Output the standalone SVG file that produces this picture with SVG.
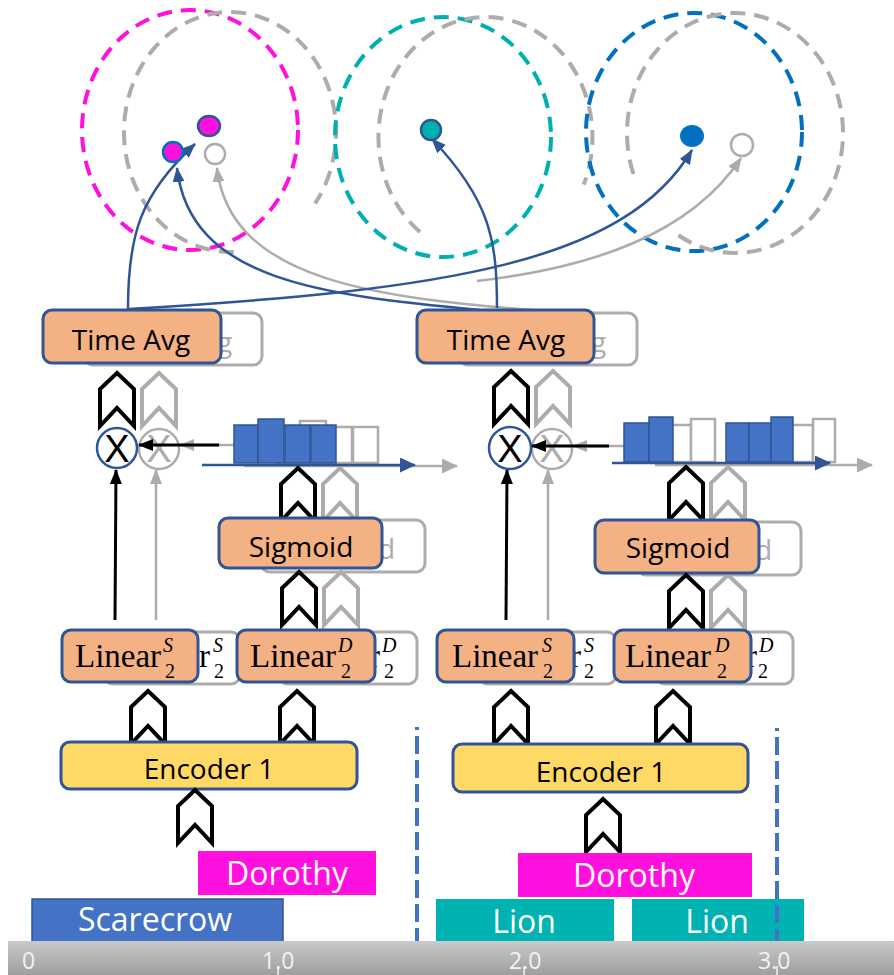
<svg xmlns="http://www.w3.org/2000/svg" width="894" height="975" viewBox="0 0 894 975">
<defs>
  <style>
    .bx{stroke:#2F5597;stroke-width:3}
    .or{fill:#F4B183}
    .ye{fill:#FFD966}
    .gb{fill:#fff;stroke:#AFABAB;stroke-width:3}
    .t{font-family:"Open Sans","Noto Sans",sans-serif;font-size:28px;text-anchor:middle;fill:#000}
    .tgs{font-family:"Open Sans","Noto Sans",sans-serif;font-size:28px;fill:#AFABAB}
    .seg{font-family:"Open Sans","Noto Sans",sans-serif;font-size:32px;text-anchor:middle;fill:#fff}
    .tg{fill:#AFABAB}
    .lin{font-family:"Liberation Serif","DejaVu Serif",serif;font-size:33px;fill:#000}
    .sc{font-family:"Liberation Serif","DejaVu Serif",serif;font-size:20px;fill:#000}
    .it{font-style:italic}
    .chev{fill:#fff;stroke:#000;stroke-width:4}
    .chg{stroke:#AFABAB}
    .xc{fill:#fff;stroke:#2F5597;stroke-width:2.5}
    .xg{fill:#fff;stroke:#AFABAB;stroke-width:2.5}
    .xt{font-family:"Liberation Sans","Open Sans",sans-serif;font-size:38px;text-anchor:middle}
    .bar{fill:#4472C4;stroke:#2F5597;stroke-width:1.5}
    .gbar{fill:#fff;stroke:#AFABAB;stroke-width:2.5}
    .cb{fill:none;stroke:#2F5597;stroke-width:2.5}
    .cg{fill:none;stroke:#AFABAB;stroke-width:2.5}
    .ck{fill:none;stroke:#000;stroke-width:3}
    .ring{fill:none;stroke-width:4;stroke-dasharray:15 9}
    .vd{fill:none;stroke:#4472C4;stroke-width:4;stroke-dasharray:18 6}
    .ax{font-family:"Open Sans","Noto Sans",sans-serif;font-size:23px;fill:#F2F2F2}
  </style>
  <path id="chev" d="M0,0 L17,16 L17,53 L0,35 L-17,53 L-17,16 Z"/>
  <marker id="mb" viewBox="0 0 15 12" refX="14" refY="6" markerWidth="15" markerHeight="12" orient="auto" markerUnits="userSpaceOnUse"><path d="M0,0 L15,6 L0,12 Z" fill="#2F5597"/></marker>
  <marker id="mg" viewBox="0 0 15 12" refX="14" refY="6" markerWidth="15" markerHeight="12" orient="auto" markerUnits="userSpaceOnUse"><path d="M0,0 L15,6 L0,12 Z" fill="#AFABAB"/></marker>
  <marker id="mk" viewBox="0 0 15 12" refX="14" refY="6" markerWidth="15" markerHeight="12" orient="auto" markerUnits="userSpaceOnUse"><path d="M0,0 L15,6 L0,12 Z" fill="#000"/></marker>
  <marker id="mab" viewBox="0 0 16 15" refX="15" refY="7.5" markerWidth="16" markerHeight="15" orient="auto" markerUnits="userSpaceOnUse"><path d="M0,0 L16,7.5 L0,15 Z" fill="#2F5597"/></marker>
  <marker id="mag" viewBox="0 0 16 15" refX="15" refY="7.5" markerWidth="16" markerHeight="15" orient="auto" markerUnits="userSpaceOnUse"><path d="M0,0 L16,7.5 L0,15 Z" fill="#AFABAB"/></marker>
  <linearGradient id="axg" x1="0" y1="0" x2="0" y2="1">
    <stop offset="0" stop-color="#CACACA"/>
    <stop offset="1" stop-color="#9E9E9E"/>
  </linearGradient>
</defs>
<rect width="894" height="975" fill="#fff"/>

<!-- embedding space: speaker clusters -->
<g id="clusters">
  <ellipse cx="190" cy="130" rx="108" ry="120" class="ring" stroke="#FF10DF"/>
  <path d="M233.7,251.9 A106 120 0 1 1 315.1,203.5" class="ring" stroke="#AFABAB"/>
  <ellipse cx="443" cy="137" rx="108" ry="120" class="ring" stroke="#00B0B0"/>
  <path d="M420,232 A107 120 0 1 1 583.7,184.6" class="ring" stroke="#AFABAB"/>
  <ellipse cx="694" cy="132" rx="108" ry="119" class="ring" stroke="#0070C0"/>
  <path d="M633.5,174 A108 120 0 1 1 673,231.3" class="ring" stroke="#AFABAB"/>
</g>

<!-- connectors -->
<g id="connectors">
  <path d="M543,311 C380,298 230,282 217,168" class="cg" marker-end="url(#mg)"/>
  <path d="M477,281 C590,268 690,235 741,158" class="cg" marker-end="url(#mg)"/>
  <path d="M128,309 C128,235 140,195 195,144" class="cb" marker-end="url(#mb)"/>
  <path d="M480,310 C320,295 190,280 177,168" class="cb" marker-end="url(#mb)"/>
  <path d="M128,309 C450,290 625,262 692,150" class="cb" marker-end="url(#mb)"/>
  <path d="M497,308 C497,240 490,200 432,139" class="cb" marker-end="url(#mb)"/>

  <!-- left column -->
  <line x1="156" y1="620" x2="156" y2="470" class="cg" stroke-width="3" marker-end="url(#mg)"/>
  <line x1="262" y1="445" x2="180" y2="445" class="cg" stroke-width="3" marker-end="url(#mg)"/>
  <line x1="244" y1="466" x2="457" y2="466" class="cg" stroke-width="3" marker-end="url(#mag)"/>
  <!-- right column -->
  <line x1="548" y1="620" x2="548" y2="470" class="cg" stroke-width="3" marker-end="url(#mg)"/>
  <line x1="655" y1="446" x2="573" y2="446" class="cg" stroke-width="3" marker-end="url(#mg)"/>
  <line x1="655" y1="465" x2="872" y2="465" class="cg" stroke-width="3" marker-end="url(#mag)"/>
</g>

<!-- grey shadow copy, left (only the uncovered glyphs are written) -->
<g id="shadow-left">
  <rect x="84" y="313" width="178" height="52" rx="9" class="gb"/>
  <text x="217" y="352" class="tgs">g</text>
  <use href="#chev" x="159" y="373" class="chev chg"/>
  <circle cx="159" cy="449" r="20" class="xg"/>
  <text x="159" y="462" class="xt tg">X</text>
  <rect x="276" y="427" width="24" height="36" class="gbar"/>
  <rect x="300" y="421" width="26" height="42" class="gbar"/>
  <rect x="327" y="427" width="25" height="36" class="gbar"/>
  <rect x="353" y="427" width="25" height="36" class="gbar"/>
  <use href="#chev" x="340" y="468" class="chev chg"/>
  <rect x="261" y="520" width="164" height="52" rx="9" class="gb"/>
  <text x="378" y="559" class="tgs">d</text>
  <use href="#chev" x="341" y="572" class="chev chg"/>
  <rect x="104" y="632" width="136" height="52" rx="9" class="gb"/>
  <text x="199" y="667" class="lin tg">r</text>
  <text x="213" y="652" class="sc it tg">S</text>
  <text x="214" y="678" class="sc tg">2</text>
  <rect x="279" y="632" width="138" height="52" rx="9" class="gb"/>
  <text x="369" y="667" class="lin tg">r</text>
  <text x="382" y="652" class="sc it tg">D</text>
  <text x="384" y="678" class="sc tg">2</text>
</g>

<!-- grey shadow copy, right (only the uncovered glyphs are written) -->
<g id="shadow-right">
  <rect x="459" y="313" width="178" height="52" rx="9" class="gb"/>
  <text x="591" y="352" class="tgs">g</text>
  <use href="#chev" x="553" y="371" class="chev chg"/>
  <circle cx="552" cy="449" r="20" class="xg"/>
  <text x="552" y="462" class="xt tg">X</text>
  <rect x="666" y="425" width="25" height="37" class="gbar"/>
  <rect x="691" y="419" width="24" height="43" class="gbar"/>
  <rect x="768" y="425" width="23" height="37" class="gbar"/>
  <rect x="791" y="425" width="22" height="37" class="gbar"/>
  <rect x="813" y="419" width="22" height="43" class="gbar"/>
  <use href="#chev" x="728" y="467" class="chev chg"/>
  <rect x="637" y="522" width="164" height="53" rx="9" class="gb"/>
  <text x="755" y="560" class="tgs">d</text>
  <use href="#chev" x="728" y="575" class="chev chg"/>
  <rect x="479" y="632" width="137" height="52" rx="9" class="gb"/>
  <text x="570" y="667" class="lin tg">r</text>
  <text x="584" y="652" class="sc it tg">S</text>
  <text x="584" y="678" class="sc tg">2</text>
  <rect x="656" y="632" width="137" height="52" rx="9" class="gb"/>
  <text x="746" y="667" class="lin tg">r</text>
  <text x="759" y="652" class="sc it tg">D</text>
  <text x="758" y="678" class="sc tg">2</text>
</g>

<!-- left column -->
<g id="timeavg-left">
  <rect x="43" y="310" width="178" height="53" rx="9" class="bx or"/>
  <text x="131" y="350" class="t">Time Avg</text>
</g>
<use href="#chev" x="117" y="373" class="chev"/>
<g id="mult-left">
  <circle cx="117" cy="448" r="20" class="xc"/>
  <text x="117" y="462" class="xt">X</text>
</g>
<g id="arrows-left">
  <line x1="219" y1="445" x2="139" y2="445" class="ck" marker-end="url(#mk)"/>
  <line x1="115" y1="620" x2="116" y2="470" class="ck" marker-end="url(#mk)"/>
</g>
<g id="weights-left">
  <rect x="234" y="425" width="24" height="38" class="bar"/>
  <rect x="258" y="419" width="26" height="44" class="bar"/>
  <rect x="285" y="425" width="25" height="38" class="bar"/>
  <rect x="311" y="425" width="25" height="38" class="bar"/>
  <line x1="202" y1="465" x2="415" y2="465" class="cb" stroke-width="3" marker-end="url(#mab)"/>
</g>
<use href="#chev" x="298" y="468" class="chev"/>
<g id="sigmoid-left">
  <rect x="219" y="518" width="163" height="50" rx="9" class="bx or"/>
  <text x="301" y="557" class="t">Sigmoid</text>
</g>
<use href="#chev" x="299" y="572" class="chev"/>
<g id="linear-s-left">
  <rect x="62" y="630" width="136" height="52" rx="9" class="bx or"/>
  <text x="75" y="667" class="lin">Linear</text>
  <text x="163" y="652" class="sc it">S</text>
  <text x="165" y="678" class="sc">2</text>
</g>
<g id="linear-d-left">
  <rect x="237" y="630" width="138" height="52" rx="9" class="bx or"/>
  <text x="250" y="667" class="lin">Linear</text>
  <text x="338" y="652" class="sc it">D</text>
  <text x="341" y="678" class="sc">2</text>
</g>
<use href="#chev" x="148" y="691" class="chev"/>
<use href="#chev" x="297" y="691" class="chev"/>
<g id="encoder-left">
  <rect x="61" y="742" width="296" height="47" rx="9" class="bx ye"/>
  <text x="209" y="779" class="t">Encoder 1</text>
</g>
<use href="#chev" x="195" y="790" class="chev"/>

<!-- right column -->
<g id="timeavg-right">
  <rect x="417" y="310" width="177" height="53" rx="9" class="bx or"/>
  <text x="506" y="350" class="t">Time Avg</text>
</g>
<use href="#chev" x="511" y="371" class="chev"/>
<g id="mult-right">
  <circle cx="510" cy="448" r="21" class="xc"/>
  <text x="510" y="462" class="xt">X</text>
</g>
<g id="arrows-right">
  <line x1="609" y1="446" x2="532" y2="446" class="ck" marker-end="url(#mk)"/>
  <line x1="506" y1="620" x2="507" y2="470" class="ck" marker-end="url(#mk)"/>
</g>
<g id="weights-right">
  <rect x="624" y="423" width="25" height="39" class="bar"/>
  <rect x="649" y="417" width="24" height="45" class="bar"/>
  <rect x="726" y="423" width="23" height="39" class="bar"/>
  <rect x="749" y="423" width="22" height="39" class="bar"/>
  <rect x="771" y="417" width="22" height="45" class="bar"/>
  <line x1="612" y1="463" x2="830" y2="463" class="cb" stroke-width="3" marker-end="url(#mab)"/>
</g>
<use href="#chev" x="686" y="467" class="chev"/>
<g id="sigmoid-right">
  <rect x="595" y="520" width="164" height="53" rx="9" class="bx or"/>
  <text x="678" y="558" class="t">Sigmoid</text>
</g>
<use href="#chev" x="686" y="575" class="chev"/>
<g id="linear-s-right">
  <rect x="437" y="630" width="137" height="52" rx="9" class="bx or"/>
  <text x="452" y="667" class="lin">Linear</text>
  <text x="542" y="652" class="sc it">S</text>
  <text x="543" y="678" class="sc">2</text>
</g>
<g id="linear-d-right">
  <rect x="614" y="630" width="137" height="52" rx="9" class="bx or"/>
  <text x="625" y="667" class="lin">Linear</text>
  <text x="715" y="652" class="sc it">D</text>
  <text x="717" y="678" class="sc">2</text>
</g>
<use href="#chev" x="511" y="691" class="chev"/>
<use href="#chev" x="673" y="691" class="chev"/>
<g id="encoder-right">
  <rect x="453" y="744" width="295" height="48" rx="9" class="bx ye"/>
  <text x="601" y="782" class="t">Encoder 1</text>
</g>
<use href="#chev" x="603" y="799" class="chev"/>

<!-- speaker segments on the timeline -->
<g id="seg-dorothy-1"><rect x="198" y="851" width="178" height="44" fill="#FF10DF"/><text x="287" y="885" class="seg">Dorothy</text></g>
<g id="seg-scarecrow"><rect x="32" y="899" width="251" height="44" fill="#4472C4" stroke="#2F5597" stroke-width="1.5"/><text x="155" y="931" class="seg">Scarecrow</text></g>
<g id="seg-dorothy-2"><rect x="518" y="853" width="234" height="44" fill="#FF10DF"/><text x="634" y="887" class="seg">Dorothy</text></g>
<g id="seg-lion-1"><rect x="436" y="899" width="178" height="44" fill="#00B2B2"/><text x="524" y="933" class="seg">Lion</text></g>
<g id="seg-lion-2"><rect x="632" y="899" width="172" height="44" fill="#00B2B2"/><text x="717" y="933" class="seg">Lion</text></g>

<!-- window boundaries -->
<line x1="417" y1="727" x2="417" y2="941" class="vd" stroke-dashoffset="15"/>
<line x1="777" y1="728" x2="777" y2="941" class="vd" stroke-dashoffset="15"/>

<!-- time axis -->
<g id="time-axis">
  <rect x="8" y="941" width="886" height="34" fill="url(#axg)"/>
  <g stroke="#F2F2F2" stroke-width="1.5">
    <line x1="278" y1="966" x2="278" y2="975"/>
    <line x1="524" y1="966" x2="524" y2="975"/>
    <line x1="777" y1="966" x2="777" y2="975"/>
  </g>
  <text x="22" y="969" class="ax">0</text>
  <text x="262" y="969" class="ax">1.0</text>
  <text x="509" y="969" class="ax">2.0</text>
  <text x="758" y="969" class="ax">3.0</text>
</g>

<!-- embeddings -->
<g id="points">
  <circle cx="173" cy="152" r="10" fill="#FF10DF" stroke="#0070C0" stroke-width="2.5"/>
  <ellipse cx="209" cy="126" rx="11" ry="10" fill="#FF10DF" stroke="#2F5597" stroke-width="2.5"/>
  <circle cx="215" cy="154" r="10" fill="#fff" stroke="#AFABAB" stroke-width="2.5"/>
  <circle cx="431" cy="130" r="10" fill="#00B0B0" stroke="#2F5597" stroke-width="2.5"/>
  <ellipse cx="692" cy="136" rx="12" ry="11" fill="#0070C0"/>
  <circle cx="742" cy="145" r="11" fill="#fff" stroke="#AFABAB" stroke-width="2.5"/>
</g>
</svg>
